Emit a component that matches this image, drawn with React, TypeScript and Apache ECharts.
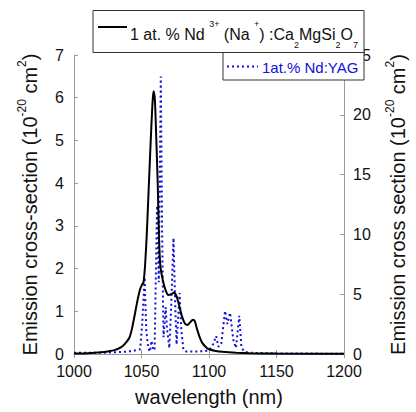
import React, { useEffect, useRef } from "react";
import * as echarts from "echarts";

// Nd3+(Na+):Ca2MgSi2O7 emission cross-section (left axis, 1e-20 cm^2)
const ndWavelength = [1000, 1010, 1020, 1025, 1030, 1035, 1038, 1041, 1043, 1045, 1047, 1049, 1050.5, 1051.5, 1052.7, 1053.9, 1055.1, 1056.3, 1057.4, 1058.4, 1059.1, 1060, 1061, 1062, 1063, 1064, 1066, 1068, 1070, 1072, 1074, 1076, 1078, 1080, 1082, 1084, 1086, 1088, 1089.5, 1091, 1093, 1095, 1098, 1100, 1105, 1110, 1120, 1130, 1150, 1200];
const ndValue = [0.01, 0.02, 0.04, 0.06, 0.09, 0.16, 0.25, 0.38, 0.6, 0.92, 1.25, 1.52, 1.63, 1.68, 2.1, 2.8, 3.7, 4.6, 5.4, 6.0, 6.15, 5.9, 5.0, 4.0, 2.7, 2.05, 1.7, 1.48, 1.38, 1.4, 1.44, 1.35, 1.12, 0.88, 0.72, 0.68, 0.74, 0.8, 0.77, 0.6, 0.4, 0.26, 0.15, 0.11, 0.07, 0.05, 0.03, 0.02, 0.01, 0.005];

// 1at.% Nd:YAG emission cross-section (right axis, 1e-20 cm^2)
const yagWavelength = [1000, 1020, 1030, 1040, 1045, 1049, 1050.5, 1052.3, 1053.5, 1055, 1056.3, 1057.4, 1058.5, 1059.7, 1061.5, 1062.8, 1064.3, 1065.3, 1066.3, 1067.9, 1069, 1070.6, 1072, 1073.7, 1075, 1076, 1078.2, 1079.5, 1081, 1083, 1090, 1097, 1100, 1103, 1105.3, 1107, 1109, 1111.9, 1113.6, 1115.6, 1118, 1120, 1122.4, 1124, 1126, 1130, 1150, 1200];
const yagValue = [0.1, 0.1, 0.15, 0.2, 0.3, 0.4, 2.5, 6.4, 2.0, 0.5, 0.2, 1.1, 0.5, 0.3, 12.4, 6.0, 23.2, 10.0, 1.4, 3.9, 2.0, 0.5, 4.0, 9.7, 4.0, 0.8, 5.1, 2.0, 0.4, 0.2, 0.2, 0.25, 0.3, 0.8, 1.5, 0.6, 0.8, 3.6, 2.5, 3.45, 1.2, 0.5, 3.2, 0.6, 0.2, 0.1, 0.05, 0.02];

const FONT = "'Liberation Sans', Arial, sans-serif";
const AXIS_GRAY = "#9a9a9a";
const BLUE = "#1010d8";

export default function App() {
  const ref = useRef<HTMLDivElement>(null);
  useEffect(() => {
    document.body.style.margin = "0";
    const chart = echarts.init(ref.current!, null, { renderer: "svg" });
    const ndData = ndWavelength.map((w, i) => [w, ndValue[i]]);
    const yagData = yagWavelength.map((w, i) => [w, yagValue[i]]);
    const nameRich = {
      a: { fontSize: 20, fontFamily: FONT, color: "#111", lineHeight: 28 },
      sup: { fontSize: 12, fontFamily: FONT, color: "#111", verticalAlign: "top", lineHeight: 12 },
    };
    chart.setOption({
      animation: false,
      backgroundColor: "#fff",
      textStyle: { fontFamily: FONT },
      grid: { left: 74, right: 54, top: 55, bottom: 55 },
      xAxis: [
        {
          type: "value",
          min: 1000,
          max: 1200,
          interval: 50,
          name: "wavelength (nm)",
          nameLocation: "middle",
          nameGap: 33,
          nameTextStyle: { fontSize: 20, fontFamily: FONT, color: "#111" },
          axisLine: { show: true, lineStyle: { color: AXIS_GRAY, width: 1 } },
          axisTick: { show: true, inside: true, length: 4, lineStyle: { color: AXIS_GRAY } },
          axisLabel: { fontSize: 16, fontFamily: FONT, color: "#111", margin: 9, formatter: (v: number) => String(v) },
          splitLine: { show: false },
        },
        {
          type: "value",
          position: "top",
          min: 1000,
          max: 1200,
          interval: 50,
          axisLine: { show: true, lineStyle: { color: AXIS_GRAY, width: 1 } },
          axisTick: { show: true, inside: true, length: 4, lineStyle: { color: AXIS_GRAY } },
          axisLabel: { show: false },
          splitLine: { show: false },
        },
      ],
      yAxis: [
        {
          type: "value",
          min: 0,
          max: 7,
          interval: 1,
          name: "{a|Emission cross-section (10}{sup|-20}{a| cm}{sup|2}{a|)}",
          nameLocation: "middle",
          nameRotate: 90,
          nameGap: 30,
          nameTextStyle: { rich: nameRich },
          axisLine: { show: true, lineStyle: { color: AXIS_GRAY, width: 1 } },
          axisTick: { show: true, inside: true, length: 4, lineStyle: { color: AXIS_GRAY } },
          axisLabel: { fontSize: 16, fontFamily: FONT, color: "#111", margin: 10 },
          splitLine: { show: false },
        },
        {
          type: "value",
          position: "right",
          min: 0,
          max: 25,
          interval: 5,
          name: "{a|Emission cross section (10}{sup|-20}{a| cm}{sup|2}{a|)}",
          nameLocation: "middle",
          nameRotate: 90,
          nameGap: 40,
          nameTextStyle: { rich: nameRich },
          axisLine: { show: true, lineStyle: { color: AXIS_GRAY, width: 1 } },
          axisTick: { show: true, inside: true, length: 4, lineStyle: { color: AXIS_GRAY } },
          axisLabel: { fontSize: 16, fontFamily: FONT, color: "#111", margin: 9 },
          splitLine: { show: false },
        },
      ],
      series: [
        {
          name: "1 at. % Nd3+ (Na+):Ca2MgSi2O7",
          type: "line",
          xAxisIndex: 0,
          yAxisIndex: 0,
          data: ndData,
          symbol: "none",
          smooth: 0.2,
          lineStyle: { color: "#000", width: 2 },
          z: 3,
        },
        {
          name: "1at.% Nd:YAG",
          type: "line",
          xAxisIndex: 0,
          yAxisIndex: 1,
          data: yagData,
          symbol: "none",
          lineStyle: { color: BLUE, width: 2, type: [2, 3] },
          z: 2,
        },
      ],
      graphic: [
        {
          type: "rect",
          z: 100,
          shape: { x: 93, y: 10.5, width: 271, height: 42 },
          style: { fill: "#fff", stroke: "#333", lineWidth: 1 },
        },
        {
          type: "line",
          z: 101,
          shape: { x1: 98, y1: 27, x2: 127, y2: 27 },
          style: { stroke: "#000", lineWidth: 2 },
        },
        {
          type: "text",
          z: 101,
          x: 130,
          y: 19,
          style: {
            text: "{a|1 at. % Nd }{sup|3+}{a| (Na }{sup|+}{a|) :Ca}{sub|2}{a|MgSi}{sub|2}{a|O}{sub|7}",
            verticalAlign: "top",
            rich: {
              a: { fontSize: 16, fontFamily: FONT, fill: "#111", lineHeight: 30 },
              sup: { fontSize: 9, fontFamily: FONT, fill: "#111", verticalAlign: "top", lineHeight: 10 },
              sub: { fontSize: 9, fontFamily: FONT, fill: "#111", verticalAlign: "bottom", lineHeight: 10 },
            },
          },
        },
        {
          type: "rect",
          z: 100,
          shape: { x: 223, y: 52.5, width: 141, height: 27.5 },
          style: { fill: "#fff", stroke: "#333", lineWidth: 1 },
        },
        {
          type: "line",
          z: 101,
          shape: { x1: 227, y1: 66.5, x2: 258, y2: 66.5 },
          style: { stroke: BLUE, lineWidth: 2, lineDash: [2, 3] },
        },
        {
          type: "text",
          z: 101,
          x: 262,
          y: 57,
          style: {
            text: "{b|1at.% Nd:YAG}",
            verticalAlign: "top",
            rich: {
              b: { fontSize: 15, fontFamily: FONT, fill: BLUE, lineHeight: 20 },
            },
          },
        },
      ],
    });
    return () => chart.dispose();
  }, []);
  return <div ref={ref} style={{ width: 416, height: 412 }} />;
}
